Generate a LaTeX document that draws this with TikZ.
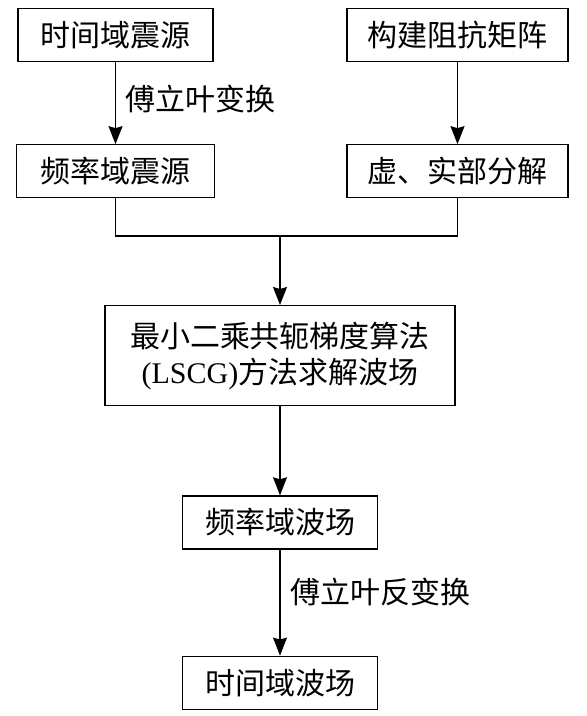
\documentclass[tikz,border=0pt]{standalone}
\usepackage{fontspec}
\setmainfont{Liberation Serif}
\newfontfamily\cjk{Noto Sans CJK SC}
\usepackage{tikz}
\usetikzlibrary{arrows.meta,positioning}
\tikzset{
  flow/box/.style={draw, line width=1.3pt, minimum height=53pt, align=center, inner sep=0pt,
    font=\cjk\fontsize{30}{36}\selectfont},
  flow/line/.style={line width=1.3pt},
  flow/arr/.style={flow/line, -{Stealth[length=18pt,width=14pt,inset=2pt]}},
  flow/lbl/.style={inner sep=0pt, font=\cjk\fontsize{30}{36}\selectfont}
}
\begin{document}
\begin{tikzpicture}[x=1pt, y=1pt, node distance=80pt]
\useasboundingbox (0,0) rectangle (587,716);
\node[flow/box, minimum width=195pt] (tsrc) at (115.5,681) {时间域震源};
\node[flow/box, minimum width=221pt] (zmat) at (457.5,681) {构建阻抗矩阵};
\node[flow/box, minimum width=198pt, below=82pt of tsrc] (fsrc) {频率域震源};
\node[flow/box, minimum width=221pt, below=82pt of zmat] (split) {虚、实部分解};
\coordinate (join) at (280,480);
\node[flow/box, minimum width=350pt, minimum height=100pt, below=69pt of join] (lscg)
  {最小二乘共轭梯度算法\\\rmfamily(LSCG)\cjk 方法求解波场};
\node[flow/box, minimum width=195pt, below=89pt of lscg] (fwave) {频率域波场};
\node[flow/box, minimum width=195pt, below=106pt of fwave] (twave) {时间域波场};
\draw[flow/arr] (tsrc) -- node[flow/lbl, pos=0.45, right=9pt] {傅立叶变换} (fsrc);
\draw[flow/arr] (zmat) -- (split);
\draw[flow/line] (fsrc.south) |- (join) -| (split.south);
\draw[flow/arr] (join) -- (lscg);
\draw[flow/arr] (lscg) -- (fwave);
\draw[flow/arr] (fwave) -- node[flow/lbl, pos=0.4, right=10pt] {傅立叶反变换} (twave);
\end{tikzpicture}
\end{document}
